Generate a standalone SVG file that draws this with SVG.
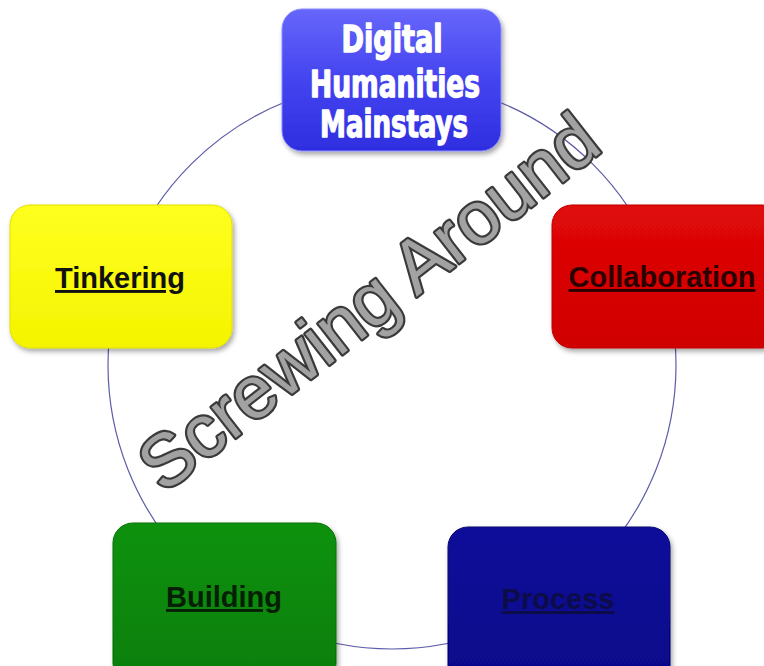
<svg xmlns="http://www.w3.org/2000/svg" width="764" height="666" viewBox="0 0 764 666">
<defs>
<filter id="sh" x="-10%" y="-10%" width="125%" height="125%">
<feDropShadow dx="2" dy="3" stdDeviation="2.5" flood-color="#000" flood-opacity="0.35"/>
</filter>
<linearGradient id="gBlue" x1="0" y1="0" x2="0" y2="1">
<stop offset="0" stop-color="#6666fb"/>
<stop offset="0.5" stop-color="#4444f0"/>
<stop offset="1" stop-color="#2e2ee0"/>
</linearGradient>
<linearGradient id="gYellow" x1="0" y1="0" x2="0" y2="1">
<stop offset="0" stop-color="#ffff20"/>
<stop offset="1" stop-color="#f4f400"/>
</linearGradient>
<linearGradient id="gRed" x1="0" y1="0" x2="0" y2="1">
<stop offset="0" stop-color="#e00808"/>
<stop offset="1" stop-color="#d00000"/>
</linearGradient>
<linearGradient id="gGreen" x1="0" y1="0" x2="0" y2="1">
<stop offset="0" stop-color="#0c920c"/>
<stop offset="1" stop-color="#067e06"/>
</linearGradient>
<linearGradient id="gNavy" x1="0" y1="0" x2="0" y2="1">
<stop offset="0" stop-color="#10109a"/>
<stop offset="1" stop-color="#05058a"/>
</linearGradient>
</defs>
<style>
.box{filter:url(#sh);}
.lbl{font-family:"Liberation Sans",Arial,sans-serif;font-weight:bold;font-size:29px;text-anchor:middle;text-decoration:underline;}
.top{font-family:"DejaVu Sans Condensed","DejaVu Sans",sans-serif;font-weight:bold;font-size:37px;fill:#ffffff;stroke:#ffffff;stroke-width:1.3;stroke-linejoin:round;text-anchor:middle;}
.ring{fill:none;stroke:#5c5ca8;stroke-width:1.2;}
.wm{font-family:"Liberation Sans",Arial,sans-serif;font-size:74px;fill:#a2a2a2;stroke:#3a3a3a;stroke-width:4.4;stroke-linejoin:round;paint-order:stroke fill;text-anchor:middle;}
</style>
<rect width="764" height="666" fill="#ffffff"/>
<g id="connectors">
<circle class="ring" cx="392" cy="365" r="284"/>
</g>
<g id="node-mainstays">
<rect class="box" x="282" y="9" width="219" height="142" rx="20" fill="url(#gBlue)" stroke="#8a8aff" stroke-width="1"/>
<text class="top" x="392" y="52" textLength="101" lengthAdjust="spacingAndGlyphs">Digital</text>
<text class="top" x="395" y="97" textLength="170" lengthAdjust="spacingAndGlyphs">Humanities</text>
<text class="top" x="394" y="137" textLength="148" lengthAdjust="spacingAndGlyphs">Mainstays</text>
</g>
<g id="node-tinkering">
<rect class="box" x="10" y="205" width="222" height="143" rx="20" fill="url(#gYellow)" stroke="#e0e000" stroke-width="1"/>
<text class="lbl" x="120" y="288" fill="#111111">Tinkering</text>
</g>
<g id="node-collaboration">
<rect class="box" x="552" y="205" width="230" height="143" rx="20" fill="url(#gRed)" stroke="#c00000" stroke-width="1"/>
<text class="lbl" x="662" y="287" fill="#2a0000">Collaboration</text>
</g>
<g id="node-building">
<rect class="box" x="113" y="523" width="223" height="160" rx="20" fill="url(#gGreen)" stroke="#066e06" stroke-width="1"/>
<text class="lbl" x="224" y="607" fill="#062006">Building</text>
</g>
<g id="node-process">
<rect class="box" x="448" y="527" width="222" height="160" rx="20" fill="url(#gNavy)" stroke="#04046e" stroke-width="1"/>
<text class="lbl" x="558" y="609" fill="#0c0c48">Process</text>
</g>
<g id="watermark">
<text class="wm" transform="translate(384,322) rotate(-38)">Screwing Around</text>
</g>
</svg>
